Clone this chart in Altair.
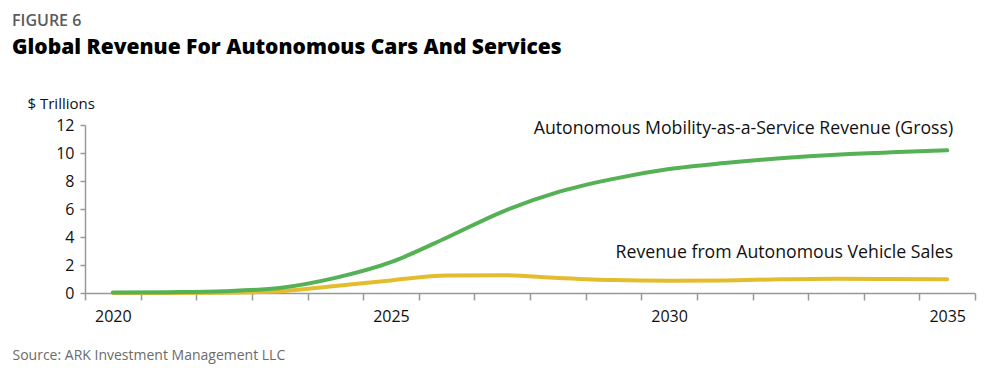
import altair as alt
import pandas as pd

years = list(range(2020, 2036))
maas_revenue = [0.03, 0.06, 0.13, 0.36, 1.08, 2.2, 3.95, 5.8, 7.2, 8.15, 8.85, 9.28, 9.62, 9.88, 10.05, 10.19]
vehicle_revenue = [0.0, 0.0, 0.02, 0.12, 0.5, 0.9, 1.25, 1.27, 1.08, 0.93, 0.88, 0.9, 0.98, 1.02, 1.0, 0.98]
series_names = ["Autonomous Mobility-as-a-Service Revenue (Gross)", "Revenue from Autonomous Vehicle Sales"]
series_colors = ["#55B155", "#E3BD2E"]
label_x = [2035, 2035]
label_y = [11.74, 2.88]
y_ticks = [0, 2, 4, 6, 8, 10, 12]
x_tick_bounds = [y - 0.5 for y in years] + [2035.5]

FONT = "Open Sans"

rows = []
for name, vals in zip(series_names, [maas_revenue, vehicle_revenue]):
    for yr, v in zip(years, vals):
        rows.append({"year": yr, "value": v, "series": name})
df = pd.DataFrame(rows)
labels_df = pd.DataFrame({"series": series_names, "x": label_x, "y": label_y})

xscale = alt.Scale(domain=[2019.5, 2035.5], nice=False, zero=False)
yscale = alt.Scale(domain=[0, 12], nice=False)
cscale = alt.Scale(domain=series_names, range=series_colors)

x_axis = alt.Axis(
    values=x_tick_bounds,
    labelExpr="(datum.value + 0.5) % 5 == 0 ? format(datum.value + 0.5, 'd') : ''",
    labelOffset=27.8,
    labelOverlap=False,
    labelFlush=False,
    labelFontSize=16,
    labelFont=FONT,
    labelColor="#111111",
    labelPadding=8,
    tickSize=7,
    tickColor="#999999",
    tickWidth=1.5,
    domainColor="#999999",
    domainWidth=1.5,
    grid=False,
    title="Source: ARK Investment Management LLC",
    titleFont=FONT,
    titleFontSize=14,
    titleFontWeight="normal",
    titleColor="#6b6b6b",
    titleAnchor="start",
    titleAlign="left",
    titleX=-73,
    titleY=55,
)

y_axis = alt.Axis(
    values=y_ticks,
    tickCount=7,
    labelOverlap=False,
    labelFontSize=16,
    labelFont=FONT,
    labelColor="#111111",
    labelPadding=6,
    tickSize=5,
    tickColor="#999999",
    tickWidth=1.5,
    domainColor="#999999",
    domainWidth=1.5,
    grid=False,
    title="$ Trillions",
    titleFont=FONT,
    titleFontSize=15,
    titleFontWeight="normal",
    titleColor="#111111",
    titleAngle=0,
    titleAlign="left",
    titleBaseline="middle",
    titleX=-58,
    titleY=-22,
)

lines = alt.Chart(df).mark_line(strokeWidth=4, interpolate="monotone", strokeCap="round").encode(
    x=alt.X("year:Q", scale=xscale, axis=x_axis),
    y=alt.Y("value:Q", scale=yscale, axis=y_axis),
    color=alt.Color("series:N", scale=cscale, legend=None),
    order=alt.Order("year:Q"),
    detail="series:N",
)

# draw vehicle series below MaaS series
lines_vehicle = lines.transform_filter(alt.datum.series == series_names[1])
lines_maas = lines.transform_filter(alt.datum.series == series_names[0])

labels = alt.Chart(labels_df).mark_text(
    align="right", baseline="middle", fontSize=17.7, font=FONT, color="#111111", dx=6
).encode(
    x=alt.X("x:Q", scale=xscale, axis=x_axis),
    y=alt.Y("y:Q", scale=yscale, axis=y_axis),
    text="series:N",
)

chart = alt.layer(lines_vehicle, lines_maas, labels).properties(
    width=890,
    height=168,
    autosize=alt.AutoSizeParams(type="none"),
    padding={"left": 77, "top": 117, "right": 17, "bottom": 80},
    title=alt.TitleParams(
        text="FIGURE 6",
        subtitle="Global Revenue For Autonomous Cars And Services",
        anchor="start",
        frame="group",
        dx=-73,
        offset=38,
        font=FONT,
        fontSize=16,
        fontWeight=600,
        color="#5a5a5a",
        subtitleFont=FONT,
        subtitleFontSize=21,
        subtitleFontWeight=800,
        subtitleColor="#000000",
        subtitlePadding=8,
    ),
).configure_view(stroke=None)

chart.save("out.html", embed_options={"renderer": "svg", "actions": False})
